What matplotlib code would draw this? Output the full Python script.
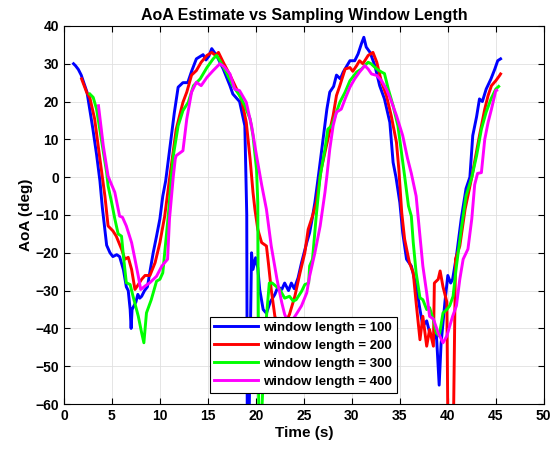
import matplotlib
matplotlib.use('Agg')
import matplotlib.pyplot as plt
import numpy as np

plt.rcParams['font.family'] = ['Liberation Sans', 'DejaVu Sans']
plt.rcParams['font.weight'] = 'bold'

# (time s, AoA deg), one list per window length
win100 = [(1.0, 30), (1.2, 29.5), (1.5, 28.5), (1.8, 27), (2.4, 22.5), (3.0, 13), (3.4, 6),
          (3.75, -1), (4.0, -8), (4.45, -18), (4.8, -20), (5.1, -21), (5.5, -20.5), (5.8, -21),
          (6.2, -24.5), (6.5, -29), (6.7, -30), (6.9, -35), (7.0, -40), (7.1, -35), (7.3, -34),
          (7.5, -33), (7.7, -31), (7.9, -32), (8.1, -31.5), (8.4, -30), (8.7, -29), (8.96, -25),
          (9.3, -20), (9.65, -15.6), (10.0, -11), (10.3, -5), (10.6, -1), (10.9, 5), (11.2, 11),
          (11.5, 17), (11.9, 23.8), (12.4, 25), (12.9, 25), (13.3, 28), (13.8, 31.3), (14.5, 32.4),
          (14.8, 31), (15.1, 32), (15.4, 34), (15.9, 32.2), (16.6, 28.6), (17.3, 24.2), (17.6, 22),
          (18.3, 20), (18.85, 13.6), (19.05, -10), (19.1, -63), (19.3, -63), (19.55, -20),
          (19.7, -24.4), (19.97, -21.3), (20.2, -24), (20.4, -29.7), (20.76, -35), (21.1, -36),
          (21.5, -33), (21.98, -31), (22.3, -29), (22.7, -29.7), (23.0, -28), (23.4, -30),
          (23.7, -28), (24.0, -29.5), (24.4, -26.6), (24.76, -22.6), (25.3, -17.3), (25.6, -14.7),
          (25.8, -12), (26.15, -6.7), (26.5, 0), (27.0, 10), (27.4, 18), (27.7, 22.5), (28.1, 24),
          (28.4, 27), (28.8, 26), (29.1, 27.8), (29.8, 30.8), (30.3, 30.8), (30.65, 32.6),
          (31.0, 35.3), (31.25, 37), (31.5, 34.4), (31.9, 33), (32.4, 29.5), (32.9, 24.2),
          (33.4, 20.7), (33.96, 14.5), (34.3, 3.9), (34.6, 0), (35.0, -6.7), (35.3, -14.7),
          (35.7, -21.7), (36.2, -23.5), (36.7, -28.8), (37.1, -35), (37.4, -39.4), (37.8, -38),
          (38.1, -41), (38.5, -43), (38.8, -41), (39.1, -55), (39.3, -44), (39.7, -33), (40.0, -26),
          (40.3, -28), (40.5, -27), (40.9, -20.9), (41.4, -11), (41.9, -3), (42.3, 0), (42.6, 11),
          (43.0, 16), (43.3, 20.7), (43.6, 20), (44.0, 23.3), (44.5, 26), (44.9, 28.6),
          (45.2, 30.8), (45.5, 31.3)]

win200 = [(1.84, 26), (2.36, 22.5), (2.7, 21), (3.2, 15.4), (3.75, 4.8), (4.27, -5), (4.6, -12.9),
          (5.1, -14.2), (5.45, -15.6), (6.0, -19), (6.35, -21.7), (6.7, -21.2), (7.05, -24.4),
          (7.4, -29.7), (7.75, -28.4), (8.1, -27), (8.45, -26), (8.96, -26), (9.5, -22.6),
          (10.0, -17.3), (10.5, -10.3), (11.0, -0.5), (11.7, 12.7), (12.4, 19.8), (12.8, 22.5),
          (13.3, 27), (13.8, 28.2), (14.3, 30.4), (14.9, 32.2), (15.4, 33), (15.8, 32.2),
          (16.1, 33), (16.6, 30.4), (17.3, 27), (18.0, 23.3), (18.5, 20.7), (19.0, 14.5),
          (19.4, 4.8), (19.7, -4), (19.9, -8.5), (20.2, -13.8), (20.6, -17.3), (21.1, -18.2),
          (21.3, -22.6), (21.6, -29.7), (21.98, -36.8), (22.5, -40), (23.0, -39), (23.5, -36.3),
          (24.06, -31.5), (24.6, -25.3), (25.1, -20), (25.45, -13.8), (25.9, -10.3), (26.3, -6.7),
          (26.8, 2), (27.5, 10), (28.05, 16.3), (28.4, 21.6), (28.75, 24.2), (29.3, 28.6),
          (29.8, 29), (30.1, 28), (30.5, 29.5), (30.8, 30.8), (31.15, 30), (31.7, 32.2),
          (32.2, 33), (32.6, 30.4), (33.1, 25.1), (33.6, 21.6), (34.1, 16.3), (34.65, 9.2),
          (34.9, 2), (35.2, -9.4), (35.5, -16.4), (36.0, -22.6), (36.4, -25.3), (36.7, -33.2),
          (37.1, -43), (37.4, -36.8), (37.8, -44.7), (38.1, -40.3), (38.5, -44.7), (38.6, -28),
          (39.0, -27), (39.2, -24.8), (39.5, -29), (39.9, -33), (40.0, -63), (40.6, -63),
          (40.8, -21.7), (41.25, -18.2), (41.8, -8.5), (42.5, 0), (43.3, 11), (43.85, 18),
          (44.2, 21.6), (44.55, 24.2), (45.0, 25.5), (45.4, 26.9), (45.5, 27.3)]

win300 = [(2.7, 22), (3.05, 21.1), (3.4, 18), (3.9, 10), (4.45, 1.2), (4.6, -2.3), (4.97, -6.7),
          (5.3, -11), (5.65, -15), (6.0, -15.6), (6.2, -20.9), (6.5, -27.9), (6.9, -28.4),
          (7.2, -31.5), (7.75, -36.8), (8.1, -41.2), (8.33, -43.8), (8.6, -35.9), (9.1, -32.4),
          (9.65, -27.5), (10.0, -27), (10.3, -25.3), (10.5, -20), (10.9, -9.4), (11.2, 0.3),
          (11.4, 5.7), (11.9, 13.6), (12.4, 17.6), (12.95, 19.8), (13.5, 24.2), (14.2, 26),
          (14.9, 29), (15.55, 31.3), (15.9, 32.2), (16.2, 31), (16.9, 27.8), (17.6, 24.2),
          (18.3, 21.6), (18.85, 18.9), (19.4, 15.4), (19.7, 11), (20.07, 2), (20.2, -6.7),
          (20.3, -63), (20.6, -63), (21.0, -40), (21.4, -28), (21.7, -28), (22.5, -29.7),
          (23.0, -32), (23.5, -31.5), (23.9, -32.8), (24.2, -32.4), (24.76, -30.2), (25.1, -28.4),
          (25.5, -28), (25.6, -23.5), (25.9, -21.7), (26.3, -10), (26.7, 0.3), (27.2, 7.4),
          (27.5, 12.7), (27.9, 13.6), (28.4, 17.2), (28.75, 19.8), (29.3, 22.5), (29.8, 25.5),
          (30.5, 27.8), (31.0, 28.6), (31.7, 30.4), (32.0, 30), (32.6, 28.6), (33.1, 27.8),
          (33.4, 27.4), (33.8, 23.3), (34.3, 18.9), (34.8, 13.6), (35.2, 6), (35.5, 0.3),
          (35.9, -7.6), (36.2, -10.3), (36.4, -17.3), (36.7, -25.3), (37.1, -31.9), (37.4, -32.4),
          (37.8, -35), (38.1, -34.5), (38.5, -37.7), (38.8, -41.2), (39.1, -42), (39.3, -39),
          (39.5, -35.9), (39.9, -35), (40.2, -34), (40.55, -31.5), (40.9, -23.5), (41.4, -13.8),
          (41.9, -5), (42.5, 0), (43.0, 5.7), (43.5, 12.7), (44.0, 17.2), (44.5, 20.7),
          (45.0, 23.3), (45.3, 24)]

win400 = [(3.6, 18.9), (4.1, 8.3), (4.6, 0.3), (4.8, -1), (5.3, -4), (5.8, -10.3), (6.1, -10.6),
          (6.5, -12.9), (7.05, -17.3), (7.4, -21.7), (7.75, -26.2), (8.0, -29.7), (8.45, -28.8),
          (8.96, -27.9), (9.65, -26.2), (10.2, -23.5), (10.8, -21.7), (11.0, -11), (11.4, 0.3),
          (11.6, 4.8), (11.7, 5.7), (12.4, 7), (12.8, 15.4), (13.3, 22.5), (13.8, 25.1),
          (14.3, 24.2), (14.9, 26.4), (15.55, 28.2), (16.25, 30), (16.7, 29.2), (17.3, 27.3),
          (17.8, 23.3), (18.3, 22.9), (19.0, 19.8), (19.55, 13.6), (20.07, 5.7), (20.6, -2),
          (21.1, -8.5), (21.6, -18.2), (22.2, -27), (22.7, -33.2), (23.0, -36.3), (23.5, -39),
          (24.2, -36.3), (24.76, -34), (25.3, -30.6), (25.6, -26.2), (26.15, -20), (26.7, -12.9),
          (27.2, -4), (27.4, 0.3), (27.7, 7.4), (28.05, 13.6), (28.4, 17.2), (28.9, 18),
          (29.3, 20.7), (29.8, 23.8), (30.3, 26), (30.8, 27.8), (31.35, 29.5), (31.7, 28.6),
          (32.05, 27.3), (32.6, 26.9), (33.1, 25.5), (33.6, 23.3), (34.1, 20.2), (34.65, 16.3),
          (35.3, 11), (35.8, 5), (36.2, 1), (36.7, -5), (37.1, -15.6), (37.4, -23.5), (37.8, -30.6),
          (38.1, -36.8), (38.5, -37.5), (39.0, -41.2), (39.5, -43.8), (39.9, -42), (40.2, -39.4),
          (40.5, -36.8), (40.9, -34), (41.25, -27), (41.6, -21.7), (42.1, -19), (42.5, -11),
          (42.8, -2), (43.1, 1), (43.5, 1.2), (43.85, 10), (44.2, 14.5), (44.55, 18),
          (45.0, 22.9), (45.1, 23)]

labels = ['window length = 100', 'window length = 200',
          'window length = 300', 'window length = 400']
colors = ['#0000ff', '#ff0000', '#00ff00', '#ff00ff']

fig = plt.figure(figsize=(5.56, 4.55), dpi=100)
ax = fig.add_axes([0.115, 0.112, 0.863, 0.831])

for series, lab, c in zip([win100, win200, win300, win400], labels, colors):
    t, v = np.array(series).T
    ax.plot(t, v, color=c, lw=2.1, label=lab)

ax.set_xlim(0, 50)
ax.set_ylim(-60, 40)
ax.set_xticks(np.arange(0, 51, 5))
ax.set_yticks(np.arange(-60, 41, 10))
ax.grid(True, color='#e0e0e0', lw=0.6)
ax.tick_params(direction='in', top=True, right=True, labelsize=10, length=4, width=0.8)
for s in ax.spines.values():
    s.set_linewidth(0.8)

ax.set_title('AoA Estimate vs Sampling Window Length', fontsize=11.5, fontweight='bold', pad=4)
ax.set_xlabel('Time (s)', fontsize=11, fontweight='bold', labelpad=2)
ax.set_ylabel('AoA (deg)', fontsize=11, fontweight='bold', labelpad=2)

leg = ax.legend(loc='lower left', bbox_to_anchor=(0.304, 0.03), fontsize=9.5,
                frameon=True, fancybox=False, edgecolor='black', framealpha=1,
                handlelength=3.3, borderpad=0.35, labelspacing=0.45, handletextpad=0.4,
                borderaxespad=0)
leg.get_frame().set_linewidth(0.8)

fig.savefig('out.png', dpi=100)
